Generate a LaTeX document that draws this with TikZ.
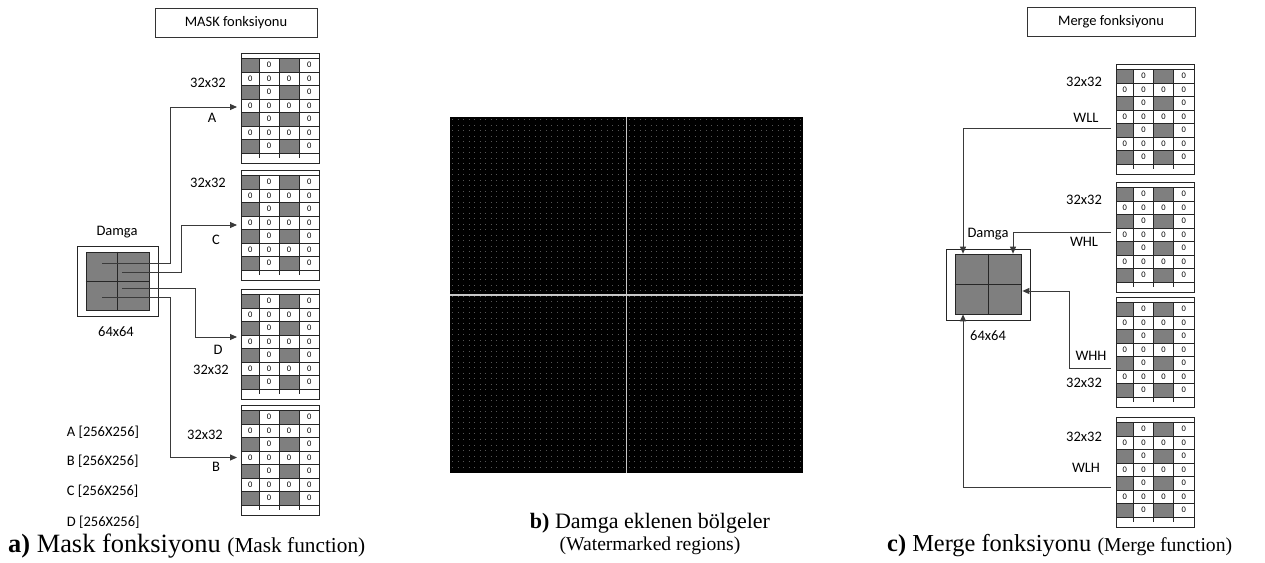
\documentclass[tikz,border=0pt]{standalone}
\usepackage{fontspec}
\setmainfont{Liberation Serif}
\newfontfamily\calfont{Carlito}
\usetikzlibrary{arrows.meta}
\definecolor{CellGray}{HTML}{7F7F7F}
\definecolor{LineGray}{HTML}{3A3A3A}
\definecolor{DotGray}{HTML}{555555}
\definecolor{CrossGray}{HTML}{C8C8C8}

% 32x32 block: name, left x, top y
\newcommand{\cellgrid}[3]{%
  \node[gridbox] (#1) at (#2,#3) {};
  \begin{scope}[shift={(#1.north west)}]
    \foreach \r in {0,...,6} {
      \pgfmathsetmacro{\ya}{5.5+13.5*\r}
      \pgfmathsetmacro{\ym}{\ya+6.75}
      \ifodd\r
        \foreach \cx in {8.75,27.5,47.5,67.75} \node[zero] at (\cx,\ym) {0};
      \else
        \fill[CellGray] (0,\ya) rectangle ++(17.5,13.5);
        \fill[CellGray] (37.5,\ya) rectangle ++(20,13.5);
        \node[zero] at (27.5,\ym) {0};
        \node[zero] at (67.75,\ym) {0};
      \fi
    }
    \foreach \k in {0,...,7} \draw[gridline] (0,5.5+13.5*\k) -- (78,5.5+13.5*\k);
    \foreach \cx in {17.5,37.5,57.5} \draw[gridline] (\cx,5.5) -- (\cx,105);
  \end{scope}
  \draw[gridline] (#1.north west) rectangle (#1.south east);
}

\begin{document}
\begin{tikzpicture}[
    x=1pt,y=-1pt,
    lbl/.style={font=\calfont\fontsize{14.5}{16}\selectfont,inner sep=0},
    zero/.style={font=\calfont\fontsize{8.5}{8.5}\selectfont,inner sep=0},
    titlebox/.style={draw=black!80,line width=0.7pt,minimum height=29pt,inner sep=0,
      font=\calfont\fontsize{14.5}{16}\selectfont},
    gridbox/.style={minimum width=78pt,minimum height=110pt,anchor=north west,inner sep=0,outer sep=0},
    gridline/.style={draw=black!85,line width=0.6pt},
    dmgbox/.style={draw=black!85,line width=0.7pt,inner sep=0},
    dmgsq/.style={draw=black!85,fill=CellGray,line width=0.7pt,inner sep=0},
    conn/.style={draw=LineGray,line width=0.9pt},
    arr/.style={conn,-{Triangle[length=7pt,width=6pt]}}
  ]
  \useasboundingbox (0,0) rectangle (1265,562);

  % a) mask
  \node[titlebox,minimum width=162pt] (mtitle) at (236,22.5) {MASK fonksiyonu};
  \cellgrid{gA}{241.5}{53}
  \cellgrid{gC}{241.5}{170}
  \cellgrid{gD}{241.5}{289}
  \cellgrid{gB}{241.5}{405}
  \node[lbl] at (208,83) {32x32};
  \node[lbl] at (208,183) {32x32};
  \node[lbl] at (211,370) {32x32};
  \node[lbl] at (205,435) {32x32};
  \node[lbl] at (212,118) {A};
  \node[lbl] at (216,240) {C};
  \node[lbl] at (218,350) {D};
  \node[lbl] at (216,467) {B};

  \node[dmgbox,minimum width=81pt,minimum height=70pt] (ldbox) at (117.8,281) {};
  \node[dmgsq,minimum width=63.3pt,minimum height=58.3pt] (lsq) at (117.7,281) {};
  \draw[gridline] (lsq.north) -- (lsq.south);
  \draw[gridline] (lsq.west) -- (lsq.east);
  \node[lbl] at (117,232) {Damga};
  \node[lbl] at (116,332) {64x64};

  \coordinate (sA) at (102.3,263.3);
  \coordinate (sC) at (122.3,272.7);
  \coordinate (sD) at (122.3,288.3);
  \coordinate (sB) at (102.3,297.7);
  \draw[arr,shorten >=4.5pt] (sA) -| ([xshift=-71.5pt,yshift=1pt]gA.west) -- ([yshift=1pt]gA.west);
  \draw[arr,shorten >=4.5pt] (sC) -| ([xshift=-60.5pt]gC.west) -- (gC.west);
  \draw[arr,shorten >=4.5pt] (sD) -| ([xshift=-46.5pt,yshift=7pt]gD.west) -- ([yshift=7pt]gD.west);
  \draw[arr,shorten >=4.5pt] (sB) -| ([xshift=-71.5pt,yshift=2.5pt]gB.west) -- ([yshift=2.5pt]gB.west);

  \node[lbl,anchor=west] at (66.7,432) {A [256X256]};
  \node[lbl,anchor=west] at (66.7,461) {B [256X256]};
  \node[lbl,anchor=west] at (66.7,491) {C [256X256]};
  \node[lbl,anchor=west] at (66.7,522) {D [256X256]};

  \node[anchor=west,inner sep=0] (capa) at (8,546)
    {\fontsize{26.4}{30}\selectfont\textbf{a)} Mask fonksiyonu {\fontsize{21.3}{24}\selectfont(Mask function)}};

  % b) watermarked image
  \node[fill=black,minimum width=353pt,minimum height=356pt,inner sep=0] (wimg) at (626.5,295) {};
  \begin{scope}[shift={(wimg.north west)}]
    \foreach \k in {0,...,63}
      \draw[DotGray,line width=1pt,dash pattern=on 1pt off 4.516pt,dash phase=3.256pt]
        (0,2.76+5.516*\k) -- (353,2.76+5.516*\k);
  \end{scope}
  \draw[CrossGray,line width=1.2pt] (wimg.north) -- (wimg.south);
  \draw[CrossGray,line width=1.2pt] (wimg.west) -- (wimg.east);
  \node[inner sep=0] (capb) at (650,523)
    {\fontsize{22}{26}\selectfont\textbf{b)} Damga eklenen bölgeler};
  \node[inner sep=0] (capbe) at (650,546)
    {\fontsize{19.6}{22}\selectfont(Watermarked regions)};

  % c) merge
  \node[titlebox,minimum width=168pt] (rtitle) at (1111,21.5) {Merge fonksiyonu};
  \cellgrid{gWLL}{1116}{64}
  \cellgrid{gWHL}{1116}{182}
  \cellgrid{gWHH}{1116}{297}
  \cellgrid{gWLH}{1116}{417}
  \node[lbl] at (1084,82) {32x32};
  \node[lbl] at (1084,200) {32x32};
  \node[lbl] at (1084,383) {32x32};
  \node[lbl] at (1084,437) {32x32};
  \node[lbl] at (1086,118) {WLL};
  \node[lbl] at (1084,242) {WHL};
  \node[lbl] at (1091,356) {WHH};
  \node[lbl] at (1086,468) {WLH};

  \node[dmgbox,minimum width=84pt,minimum height=71pt] (rdbox) at (988,284.5) {};
  \node[dmgsq,minimum width=66pt,minimum height=60pt] (rsq) at (988,284) {};
  \draw[gridline] (rsq.north) -- (rsq.south);
  \draw[gridline] (rsq.west) -- (rsq.east);
  \node[lbl] at (988,234) {Damga};
  \node[lbl] at (988,336) {64x64};

  \draw[arr] ([xshift=-5pt,yshift=-9.5pt]gWLL.west) -| ([xshift=-25pt]rsq.north);
  \draw[arr] ([xshift=-5pt,yshift=4.5pt]gWHL.west) -| ([xshift=25pt]rsq.north);
  \draw[arr,shorten >=1pt] ([xshift=-5pt,yshift=-16.5pt]gWHH.west) -| ([xshift=48pt,yshift=-7pt]rsq.east)
    -- ([yshift=-7pt]rsq.east);
  \draw[arr] ([xshift=-5pt,yshift=-15.5pt]gWLH.west) -| ([xshift=-25pt]rsq.south);

  \node[anchor=west,inner sep=0] (capc) at (887,546)
    {\fontsize{24.4}{28}\selectfont\textbf{c)} Merge fonksiyonu {\fontsize{19.7}{22}\selectfont(Merge function)}};
\end{tikzpicture}
\end{document}
